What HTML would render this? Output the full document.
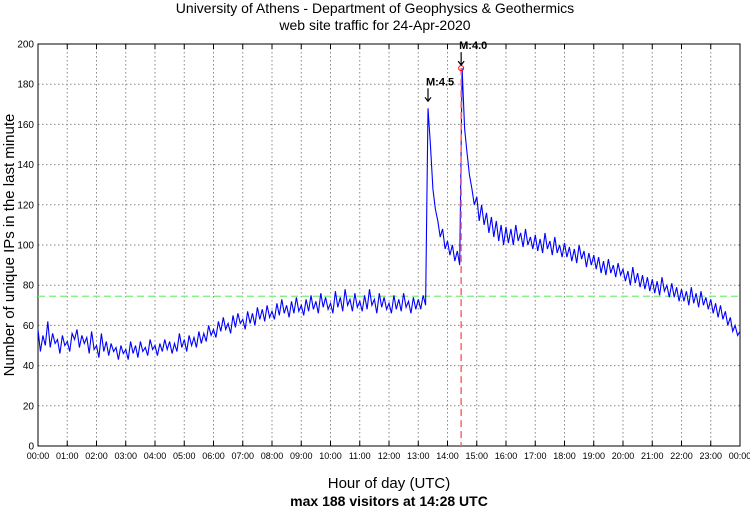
<!DOCTYPE html>
<html><head><meta charset="utf-8"><style>
body{margin:0;background:#fff;font-family:"Liberation Sans",sans-serif}
</style></head><body>
<svg width="750" height="511" xmlns="http://www.w3.org/2000/svg" font-family="Liberation Sans, sans-serif">
<text x="375" y="13" text-anchor="middle" font-size="14">University of Athens - Department of Geophysics &amp; Geothermics</text>
<text x="375" y="30" text-anchor="middle" font-size="14">web site traffic for 24-Apr-2020</text>
<g id="grid"></g>
<g id="plot"></g>
<text transform="translate(14,245) rotate(-90)" text-anchor="middle" font-size="15">Number of unique IPs in the last minute</text>
<text x="389" y="488" text-anchor="middle" font-size="15">Hour of day (UTC)</text>
<text x="389" y="506" text-anchor="middle" font-size="14" font-weight="bold">max 188 visitors at 14:28 UTC</text>
</svg>
<script>
const yTicks=[0,20,40,60,80,100,120,140,160,180,200];
const xTickLabels=["00:00","01:00","02:00","03:00","04:00","05:00","06:00","07:00","08:00","09:00","10:00","11:00","12:00","13:00","14:00","15:00","16:00","17:00","18:00","19:00","20:00","21:00","22:00","23:00","00:00"];
// visitors sampled every 5 minutes
const visitors=[
58,47,55,50,62,49,56,51,53,46,55,50,
52,47,56,53,58,49,55,51,54,46,57,48,
50,44,56,47,52,45,51,47,49,43,50,46,
48,43,52,46,50,44,52,47,49,45,53,48,
50,45,51,47,53,48,52,46,51,47,56,49,
53,47,55,50,54,49,57,51,56,52,60,55,
58,54,62,57,64,58,61,56,65,59,66,61,
63,58,67,61,66,60,69,63,68,62,70,64,
67,63,71,65,73,66,70,64,72,66,74,67,
70,65,73,67,75,68,72,66,76,69,74,68,
71,66,77,69,74,67,78,70,73,67,76,69,
72,67,75,68,78,70,73,66,76,69,74,68,
71,66,75,68,73,67,76,69,72,66,74,68,
73,68,75,70,168,150,128,118,112,104,108,98,
102,95,100,92,97,90,188,158,146,135,128,120,
124,112,120,110,116,106,114,104,112,102,110,100,
109,101,108,100,110,102,106,99,108,100,104,98,
105,97,103,96,106,98,102,95,104,96,100,94,
101,94,99,92,98,91,100,93,97,89,96,90,
95,88,94,86,92,85,93,86,90,84,91,85,
88,82,87,80,89,81,86,79,85,78,84,77,
83,76,82,75,84,77,80,74,81,74,79,72,
78,72,77,70,79,71,76,69,77,70,74,68,
73,66,71,64,70,63,67,60,64,57,60,55,57];
const maxIndexMinutes=868; // 14:28
const meanLine=74.5;

const X0=38,X1=740,Y0=446,Y1=44;
const xs=m=>X0+(X1-X0)*m/1440;
const ys=v=>Y0-(Y0-Y1)*v/200;
const NS="http://www.w3.org/2000/svg";
const grid=document.getElementById('grid'),plot=document.getElementById('plot');
function mk(tag,attrs,parent){const e=document.createElementNS(NS,tag);for(const k in attrs)e.setAttribute(k,attrs[k]);parent.appendChild(e);return e;}

yTicks.forEach(v=>{
 const y=ys(v);
 const l=mk('line',{x1:X0,x2:X1,y1:y,y2:y,stroke:'#888','stroke-dasharray':'1.5,2.5','stroke-width':1},grid);
 
 
 const t=mk('text',{x:X0-4,y:y+3.5,'text-anchor':'end','font-size':10},grid);
 t.textContent=v;
 
 
});
xTickLabels.forEach((s,i)=>{
 const x=xs(i*60);
 const l=mk('line',{x1:x,x2:x,y1:Y1,y2:Y0,stroke:'#888','stroke-dasharray':'1.5,2.5','stroke-width':1},grid);
 
 
 mk('line',{x1:x,x2:x,y1:Y0,y2:Y0-5,stroke:'#000'},grid);
 mk('line',{x1:x,x2:x,y1:Y1,y2:Y1+5,stroke:'#000'},grid);
 const t=mk('text',{x:x,y:Y0+13,'text-anchor':'middle','font-size':9},grid);
 t.textContent=s;
 
 
});
const frame=mk('rect',{x:X0,y:Y1,width:X1-X0,height:Y0-Y1,fill:'none',stroke:'#000'},grid);



const mean=mk('line',{x1:X0,x2:X1,y1:ys(meanLine),y2:ys(meanLine),stroke:'#7e7','stroke-dasharray':'7,4','stroke-width':1.2},plot);



const pts=visitors.map((v,i)=>xs(i*5).toFixed(1)+','+ys(v).toFixed(1)).join(' ');
const line=mk('polyline',{points:pts,fill:'none',stroke:'#00f','stroke-width':1.1},plot);



const mx=xs(maxIndexMinutes);
const red=mk('line',{x1:mx,x2:mx,y1:ys(188),y2:Y0,stroke:'#f66','stroke-dasharray':'7,4','stroke-width':1.5},plot);


const c=mk('circle',{cx:mx,cy:ys(188),r:2.5,fill:'none',stroke:'#f00'},plot);



[[800,170,'M:4.5'],[868,188,'M:4.0']].forEach(([m,v,s])=>{
 const x=xs(m),y=ys(v);
 const a=mk('path',{d:`M${x},${y-16}V${y-3}M${x-3},${y-7}L${x},${y-3}L${x+3},${y-7}`,stroke:'#000',fill:'none','stroke-width':1.2},plot);
 
 
 const t=mk('text',{x:x-2,y:y-19,'font-size':11,'font-weight':'bold'},plot);
 t.textContent=s;
 
 
});
</script>
</body></html>
